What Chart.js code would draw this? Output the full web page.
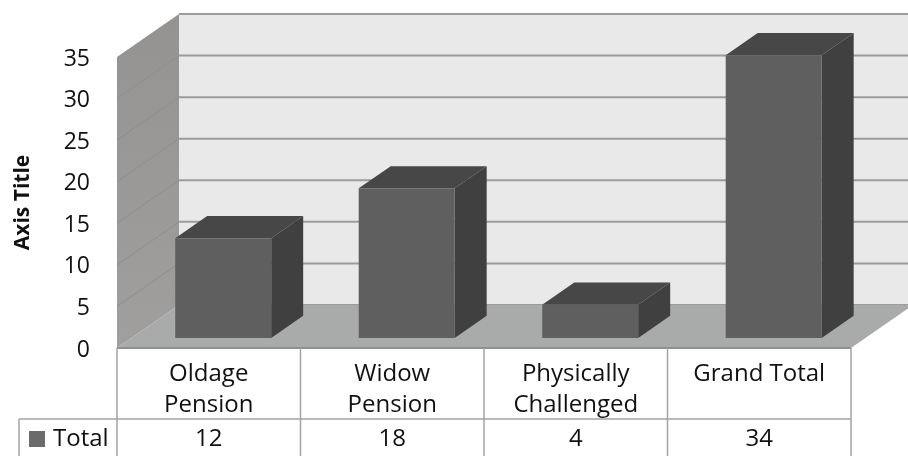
<!DOCTYPE html>
<html>
<head>
<meta charset="utf-8">
<title>Total by pension type</title>
<script src="https://cdn.jsdelivr.net/npm/chart.js@4/dist/chart.umd.min.js"></script>
<style>
  html, body { margin: 0; padding: 0; background: #fff; }
  #wrap { width: 908px; height: 456px; }
</style>
</head>
<body>
<div id="wrap"><canvas id="barChart" width="908" height="456"></canvas></div>
<script>
const categories = [['Oldage', 'Pension'], ['Widow', 'Pension'], ['Physically', 'Challenged'], ['Grand Total']];
const totals = [12, 18, 4, 34];
const seriesName = 'Total';
const axisTitle = 'Axis Title';
const yMin = 0;
const yMax = 35;
const yStep = 5;

const font = '"Open Sans", sans-serif';
const textColor = '#111111';
const depthX = 62, depthY = 43;   // how far the back wall sits behind the front plane
const barShift = 0.233;           // bar front, as a share of the depth
const barDepth = 0.516;           // bar thickness, as a share of the depth
const rowTop = 419;               // line between the labels and the values row

function poly(ctx, pts, fill) {
  ctx.beginPath();
  ctx.moveTo(pts[0][0], pts[0][1]);
  for (let i = 1; i < pts.length; i++) ctx.lineTo(pts[i][0], pts[i][1]);
  ctx.closePath();
  ctx.fillStyle = fill;
  ctx.fill();
}

function line(ctx, x1, y1, x2, y2, color, width) {
  ctx.beginPath();
  ctx.moveTo(x1, y1);
  ctx.lineTo(x2, y2);
  ctx.strokeStyle = color;
  ctx.lineWidth = width;
  ctx.stroke();
}

const box3d = {
  id: 'box3d',
  beforeDatasetsDraw(chart) {
    const { ctx, chartArea: a, scales } = chart;
    const y0 = scales.y.getPixelForValue(yMin);
    const yTop = scales.y.getPixelForValue(yMax);

    // back wall
    poly(ctx, [[a.left + depthX, yTop - depthY], [a.right + depthX, yTop - depthY],
      [a.right + depthX, y0 - depthY], [a.left + depthX, y0 - depthY]], '#e8e9e8');

    // left wall
    const wall = ctx.createLinearGradient(0, yTop - depthY, 0, y0);
    wall.addColorStop(0, '#949392');
    wall.addColorStop(1, '#a09f9e');
    poly(ctx, [[a.left, yTop], [a.left + depthX, yTop - depthY],
      [a.left + depthX, y0 - depthY], [a.left, y0]], wall);

    // grid on both walls
    for (let v = yMin; v <= yMax; v += yStep) {
      const y = scales.y.getPixelForValue(v);
      line(ctx, a.left + depthX, y - depthY, a.right + depthX, y - depthY, '#9b9c9b', 2);
      if (v > yMin && v < yMax) line(ctx, a.left, y, a.left + depthX, y - depthY, '#8f8e8d', 1);
    }

    // floor
    poly(ctx, [[a.left, y0], [a.left + depthX, y0 - depthY],
      [a.right + depthX, y0 - depthY], [a.right, y0]], '#a9abaa');
    line(ctx, a.left, y0, a.right, y0, '#8e908f', 2);

    // bars sit part way into the box
    ctx.save();
    ctx.translate(depthX * barShift, -depthY * barShift);
    const dx = depthX * barDepth, dy = depthY * barDepth;
    chart.getDatasetMeta(0).data.forEach(bar => {
      const l = bar.x - bar.width / 2, r = bar.x + bar.width / 2;
      poly(ctx, [[l, bar.y], [l + dx, bar.y - dy], [r + dx, bar.y - dy], [r, bar.y]], '#474747');
      poly(ctx, [[r, bar.y], [r + dx, bar.y - dy], [r + dx, bar.base - dy], [r, bar.base]], '#3f403f');
    });
  },
  afterDatasetsDraw(chart) {
    chart.ctx.restore();
  },
  afterDraw(chart) {
    const { ctx, chartArea: a, scales, height } = chart;
    const tableLine = '#a3a3a3';

    // data table under the chart
    line(ctx, 19, rowTop, a.right, rowTop, tableLine, 1.5);
    line(ctx, 19, rowTop, 19, height, tableLine, 1.5);
    line(ctx, a.left, a.bottom, a.left, height, tableLine, 1.5);
    categories.forEach((c, i) => {
      const right = scales.x.getPixelForValue(i) + (a.right - a.left) / categories.length / 2;
      line(ctx, right, a.bottom, right, height, tableLine, 1.5);
    });

    ctx.font = '24px ' + font;
    ctx.fillStyle = textColor;
    ctx.textBaseline = 'middle';
    ctx.textAlign = 'center';
    totals.forEach((v, i) => ctx.fillText(String(v), scales.x.getPixelForValue(i), 439));

    ctx.fillStyle = '#6b6b6b';
    ctx.fillRect(29, 431, 16, 16);
    ctx.fillStyle = textColor;
    ctx.textAlign = 'left';
    ctx.fillText(seriesName, 53, 439);
  }
};

const myChart = new Chart(document.getElementById('barChart'), {
  type: 'bar',
  data: {
    labels: categories,
    datasets: [{
      label: seriesName,
      data: totals,
      backgroundColor: '#5f5f5f',
      categoryPercentage: 1,
      barPercentage: 0.523
    }]
  },
  options: {
    responsive: false,
    animation: false,
    layout: { padding: { top: 57, right: 57 } },
    plugins: { legend: { display: false }, tooltip: { enabled: false } },
    scales: {
      x: {
        afterFit(scale) { scale.height = 108; },
        grid: { display: false },
        border: { display: false },
        ticks: {
          color: textColor,
          padding: 3,
          maxRotation: 0,
          autoSkip: false,
          font: { family: font, size: 24, lineHeight: '31px' }
        }
      },
      y: {
        min: yMin,
        max: yMax,
        afterFit(scale) { scale.width = 117; },
        grid: { display: false },
        border: { display: false },
        title: {
          display: true,
          text: axisTitle,
          color: textColor,
          padding: { top: 10, bottom: 0 },
          font: { family: font, size: 21, weight: 'bold' }
        },
        ticks: {
          stepSize: yStep,
          color: textColor,
          padding: 19,
          labelOffset: 2,
          font: { family: font, size: 23 }
        }
      }
    }
  },
  plugins: [box3d]
});
</script>
</body>
</html>
